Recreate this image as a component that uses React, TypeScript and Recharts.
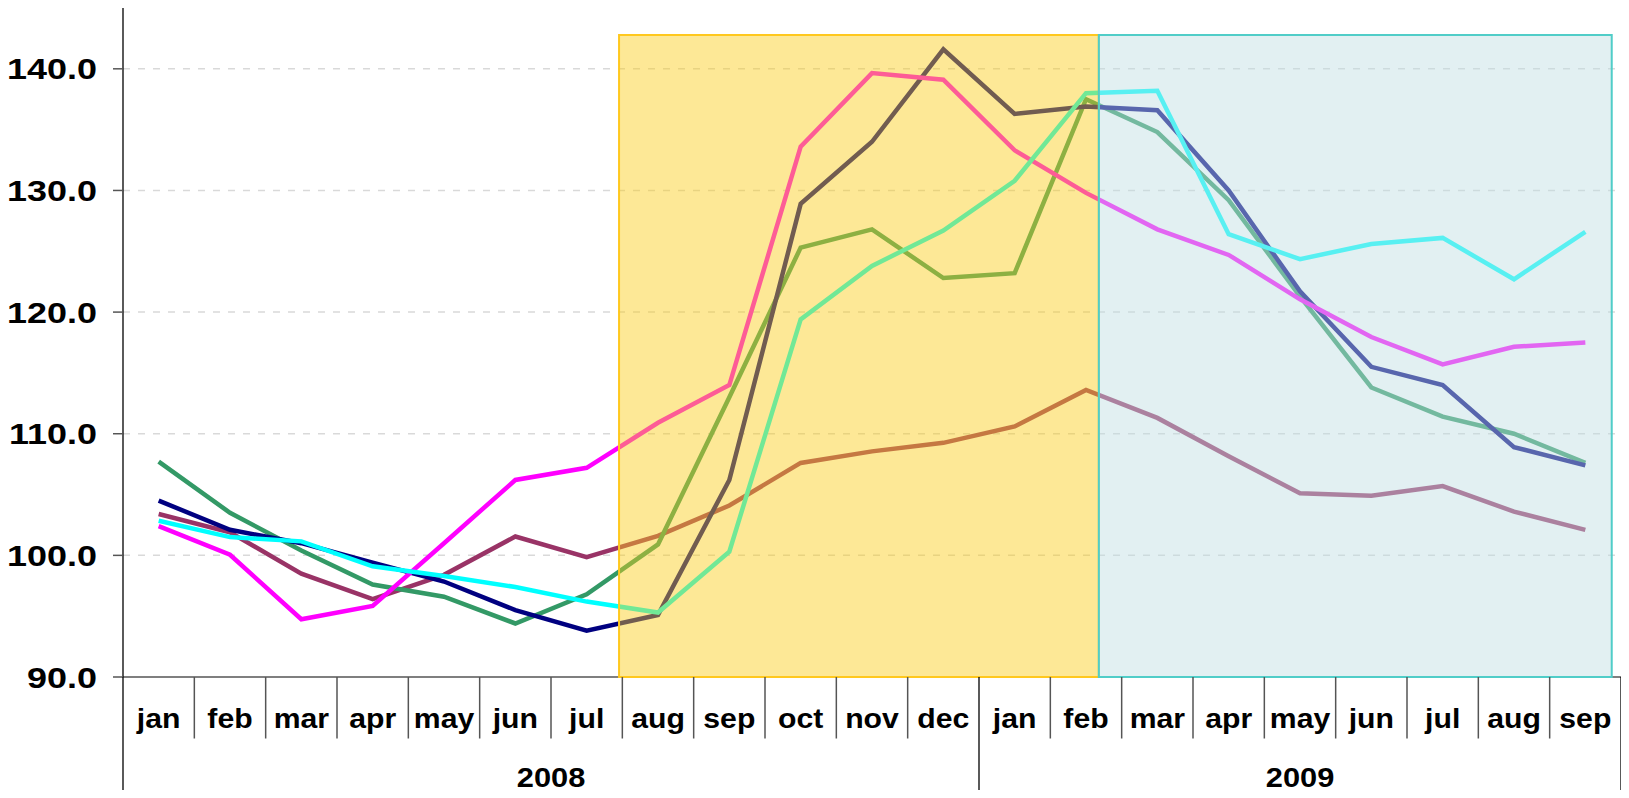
import React from 'react';
import { LineChart, Line, XAxis, YAxis, CartesianGrid, ReferenceArea } from 'recharts';

const MONTHS = ['jan','feb','mar','apr','may','jun','jul','aug','sep','oct','nov','dec','jan','feb','mar','apr','may','jun','jul','aug','sep'];
const YEAR_GROUPS = [
  { year: '2008', first: 0, last: 11 },
  { year: '2009', first: 12, last: 20 },
];
const Y_TICKS = [90, 100, 110, 120, 130, 140];

const SERIES_NAVY = [104.5,102.1,101.0,99.4,97.85,95.5,93.8,95.1,106.2,128.9,134.0,141.6,136.3,136.9,136.6,130.0,121.7,115.5,114.0,108.9,107.4];
const SERIES_GREEN = [107.7,103.5,100.4,97.6,96.6,94.4,96.8,100.9,113.0,125.3,126.8,122.8,123.2,137.5,134.8,129.2,121.3,113.8,111.4,110.0,107.6];
const SERIES_MAGENTA = [102.4,100.05,94.75,95.85,101.0,106.2,107.2,110.9,114.0,133.6,139.65,139.1,133.3,129.8,126.8,124.7,121.05,117.95,115.7,117.15,117.5];
const SERIES_MAROON = [103.4,101.9,98.5,96.4,98.4,101.55,99.85,101.6,104.1,107.6,108.55,109.25,110.6,113.6,111.3,108.15,105.1,104.9,105.7,103.6,102.1];
const SERIES_CYAN = [102.85,101.5,101.15,99.1,98.3,97.4,96.2,95.3,100.3,119.4,123.8,126.7,130.8,138.0,138.2,126.4,124.35,125.6,126.1,122.7,126.6];

// shaded periods in data units (x = month index, y = value)
const PERIODS = [
  { x1: 6.454, x2: 13.18, y1: 90, y2: 142.78, fill: 'rgb(250,205,22)', opacity: 0.45, stroke: '#FFC81E' },
  { x1: 13.18, x2: 20.37, y1: 90, y2: 142.78, fill: 'rgb(191,222,226)', opacity: 0.46, stroke: '#50CDC8' },
];

const data = MONTHS.map((m, i) => ({
  idx: i,
  navy: SERIES_NAVY[i],
  green: SERIES_GREEN[i],
  magenta: SERIES_MAGENTA[i],
  maroon: SERIES_MAROON[i],
  cyan: SERIES_CYAN[i],
}));

const monthTicks: number[] = [];
for (let i = 0; i < MONTHS.length; i++) {
  monthTicks.push(i - 0.5);
  monthTicks.push(i);
}
monthTicks.push(MONTHS.length - 0.5);

const yearBoundaries = new Set<number>();
YEAR_GROUPS.forEach((g) => {
  yearBoundaries.add(g.first - 0.5);
  yearBoundaries.add(g.last + 0.5);
});
const yearCenters = YEAR_GROUPS.map((g) => (g.first + g.last) / 2);

const FONT = '"Liberation Sans", Arial, sans-serif';

const MonthTick = (props: any) => {
  const { x, y, payload } = props;
  const v = payload.value;
  if (Number.isInteger(v)) {
    return (
      <text
        transform={`translate(${x},${y + 50.5}) scale(1.06,1)`}
        textAnchor="middle"
        fontFamily={FONT}
        fontWeight="bold"
        fontSize={28.5}
        fill="#000"
      >
        {MONTHS[v]}
      </text>
    );
  }
  const isYear = yearBoundaries.has(v);
  return (
    <line
      x1={x}
      x2={x}
      y1={y}
      y2={isYear ? y + 130 : y + 61.5}
      stroke={isYear ? '#000' : '#555'}
      strokeWidth={isYear ? 1.3 : 1.5}
    />
  );
};

const YearTick = (props: any) => {
  const { x, y, payload, index } = props;
  const i = yearCenters.indexOf(payload.value);
  return (
    <text
      transform={`translate(${x},${y + 49.3}) scale(1.1,1)`}
      textAnchor="middle"
      fontFamily={FONT}
      fontWeight="bold"
      fontSize={28}
      fill="#000"
    >
      {YEAR_GROUPS[i >= 0 ? i : index].year}
    </text>
  );
};

const ValueTick = (props: any) => {
  const { x, y, payload } = props;
  return (
    <text
      transform={`translate(${x - 16},${y + 10.5}) scale(1.24,1)`}
      textAnchor="end"
      fontFamily={FONT}
      fontWeight="bold"
      fontSize={29}
      fill="#000"
    >
      {payload.value.toFixed(1)}
    </text>
  );
};

const LW = 4.5;

export default function App() {
  return (
    <div style={{ width: 1621, height: 790, marginBottom: -8 }}>
      <LineChart width={1621} height={790} data={data} margin={{ top: 0, right: 8, bottom: 0, left: 0 }}>
        <CartesianGrid
          vertical={false}
          horizontalValues={Y_TICKS.slice(1)}
          stroke="#D9D9D9"
          strokeWidth={1.5}
          strokeDasharray="7 8"
        />
        <XAxis
          dataKey="idx"
          type="number"
          domain={[-0.5, MONTHS.length - 0.5]}
          ticks={monthTicks}
          interval={0}
          height={61}
          tickSize={0}
          tickMargin={0}
          tickLine={false}
          axisLine={{ stroke: '#555', strokeWidth: 1.5 }}
          tick={MonthTick}
        />
        <XAxis
          xAxisId="year"
          dataKey="idx"
          type="number"
          domain={[-0.5, MONTHS.length - 0.5]}
          ticks={yearCenters}
          interval={0}
          height={60}
          tickSize={0}
          tickMargin={0}
          tickLine={false}
          axisLine={false}
          tick={YearTick}
        />
        <YAxis
          type="number"
          domain={[90, 145]}
          ticks={Y_TICKS}
          interval={0}
          width={115}
          tickSize={10}
          tickMargin={0}
          tickLine={{ stroke: '#555', strokeWidth: 1.5 }}
          axisLine={{ stroke: '#000', strokeWidth: 1.3 }}
          tick={ValueTick}
        />
        <Line dataKey="maroon" type="linear" stroke="#993366" strokeWidth={LW} dot={false} isAnimationActive={false} />
        <Line dataKey="green" type="linear" stroke="#339966" strokeWidth={LW} dot={false} isAnimationActive={false} />
        <Line dataKey="navy" type="linear" stroke="#000080" strokeWidth={LW} dot={false} isAnimationActive={false} />
        <Line dataKey="magenta" type="linear" stroke="#FF00FF" strokeWidth={LW} dot={false} isAnimationActive={false} />
        <Line dataKey="cyan" type="linear" stroke="#00FFFF" strokeWidth={LW} dot={false} isAnimationActive={false} />
        {PERIODS.map((p, i) => (
          <ReferenceArea
            key={i}
            x1={p.x1}
            x2={p.x2}
            y1={p.y1}
            y2={p.y2}
            fill={p.fill}
            fillOpacity={p.opacity}
            stroke={p.stroke}
            strokeWidth={2}
            strokeOpacity={1}
            zIndex={1000}
            ifOverflow="visible"
          />
        ))}
      </LineChart>
    </div>
  );
}
